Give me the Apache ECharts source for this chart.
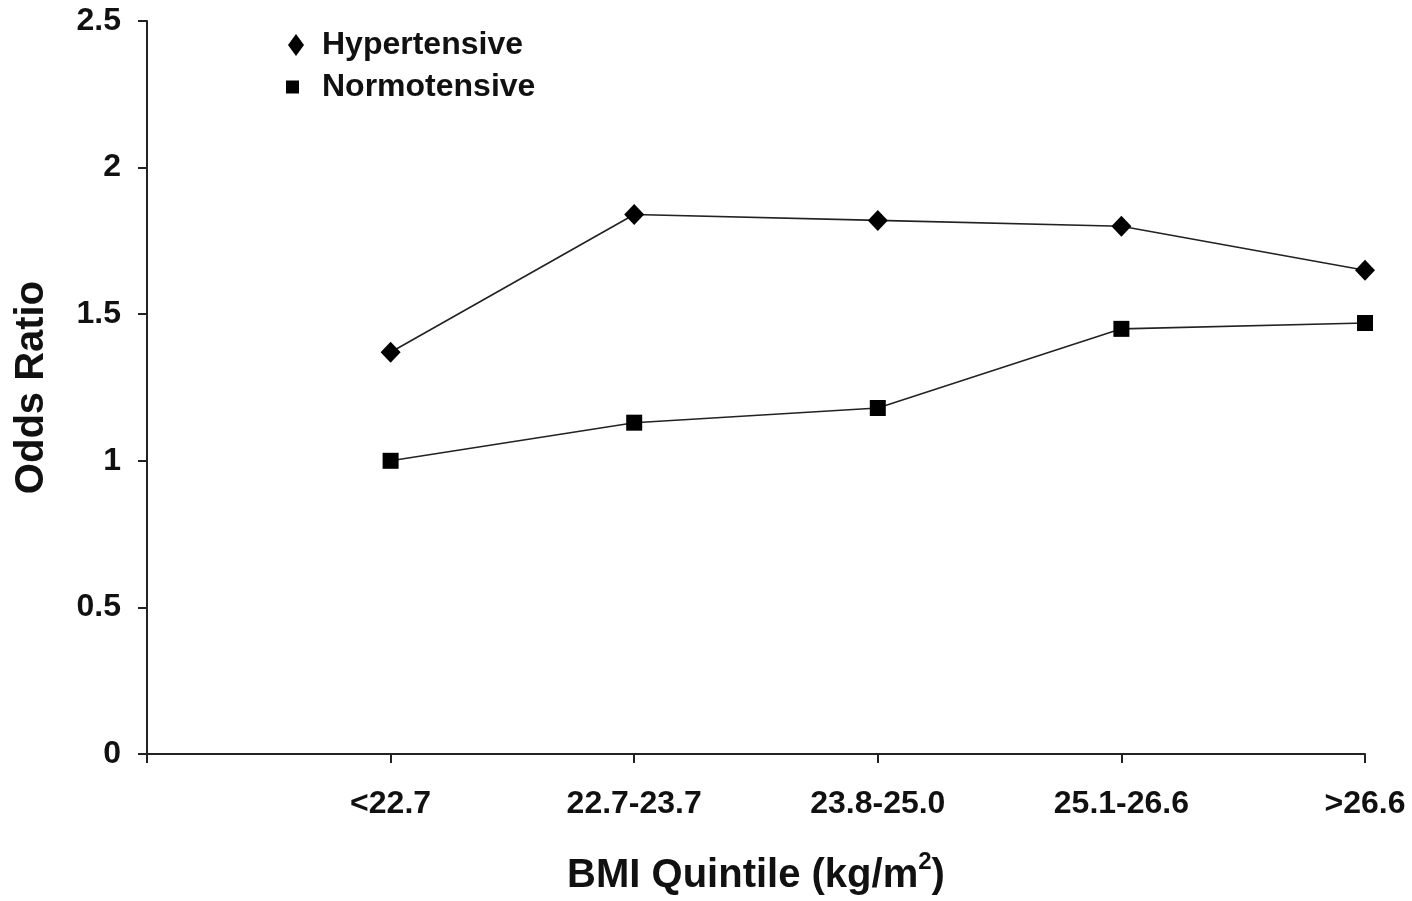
<!DOCTYPE html>
<html>
<head>
<meta charset="utf-8">
<script src="https://cdn.jsdelivr.net/npm/echarts@6/dist/echarts.min.js"></script>
<style>html,body{margin:0;padding:0;background:#fff}#c{width:1412px;height:901px}</style>
</head>
<body>
<div id="c"></div>
<script>
var categories = ['', '<22.7', '22.7-23.7', '23.8-25.0', '25.1-26.6', '>26.6'];
var hypertensive = ['-', 1.37, 1.84, 1.82, 1.80, 1.65];
var normotensive = ['-', 1.00, 1.13, 1.18, 1.45, 1.47];
var yTicks = [0, 0.5, 1, 1.5, 2, 2.5];

var FONT = '"Liberation Sans", Arial, sans-serif';
var chart = echarts.init(document.getElementById('c'));
chart.setOption({
  animation: false,
  backgroundColor: '#fff',
  grid: { left: 147, right: 47, top: 21, bottom: 142, containLabel: false },
  legend: [
    { data: [{ name: 'Hypertensive', icon: 'diamond' }], left: 283, top: 24, orient: 'vertical',
      itemWidth: 16, itemHeight: 22,
      textStyle: { fontFamily: FONT, fontWeight: 'bold', fontSize: 32, color: '#111', padding: [0, 0, 0, 13] } },
    { data: [{ name: 'Normotensive', icon: 'rect' }], left: 281, top: 66, orient: 'vertical',
      itemWidth: 13, itemHeight: 13,
      textStyle: { fontFamily: FONT, fontWeight: 'bold', fontSize: 32, color: '#111', padding: [0, 0, 0, 18] } }
  ],
  xAxis: {
    type: 'category', data: categories, boundaryGap: false,
    name: 'BMI Quintile (kg/m{sup|2})', nameLocation: 'middle', nameGap: 102,
    nameTextStyle: { fontFamily: FONT, fontWeight: 'bold', fontSize: 40, color: '#111',
      rich: { sup: { fontFamily: FONT, fontWeight: 'bold', fontSize: 24, lineHeight: 24, color: '#111', verticalAlign: 'bottom', padding: [0, 0, 22, 0] } } },
    axisLine: { lineStyle: { color: '#222', width: 2 } },
    axisTick: { show: true, interval: 0, length: 9, lineStyle: { color: '#222', width: 2 } },
    axisLabel: { interval: 0, margin: 34, fontFamily: FONT, fontWeight: 'bold', fontSize: 32, color: '#111' },
    splitLine: { show: false }
  },
  yAxis: {
    type: 'value', min: yTicks[0], max: yTicks[yTicks.length - 1], interval: 0.5,
    name: 'Odds Ratio', nameLocation: 'middle', nameGap: 95, nameRotate: 90,
    nameTextStyle: { fontFamily: FONT, fontWeight: 'bold', fontSize: 40, color: '#111' },
    axisLine: { show: true, lineStyle: { color: '#222', width: 2 } },
    axisTick: { show: true, length: 9, lineStyle: { color: '#222', width: 2 } },
    axisLabel: { margin: 26, fontFamily: FONT, fontWeight: 'bold', fontSize: 32, color: '#111' },
    splitLine: { show: false }
  },
  series: [
    { name: 'Hypertensive', type: 'line', data: hypertensive, symbol: 'diamond', symbolSize: [20, 21],
      itemStyle: { color: '#000' }, lineStyle: { color: '#222', width: 1.6 } },
    { name: 'Normotensive', type: 'line', data: normotensive, symbol: 'rect', symbolSize: 16,
      itemStyle: { color: '#000' }, lineStyle: { color: '#222', width: 1.6 } }
  ]
});
</script>
</body>
</html>
